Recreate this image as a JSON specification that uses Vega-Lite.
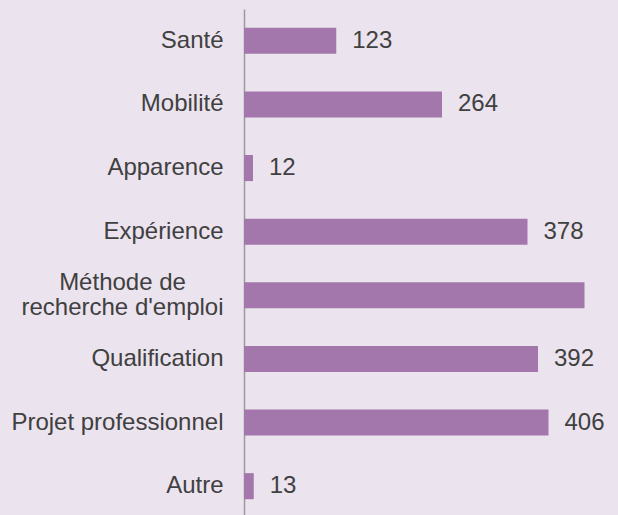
{
  "$schema": "https://vega.github.io/schema/vega-lite/v6.json",
  "width": 375,
  "height": 509,
  "autosize": "none",
  "padding": {"left": 244, "top": 9, "right": 0, "bottom": 0},
  "background": "#ebe3ee",
  "config": {"view": {"stroke": null}, "font": "Liberation Sans"},
  "data": {"values": [
    {"cat": "Santé", "value": 123, "show": true},
    {"cat": "Mobilité", "value": 264, "show": true},
    {"cat": "Apparence", "value": 12, "show": true},
    {"cat": "Expérience", "value": 378, "show": true},
    {"cat": "Méthode de|recherche d'emploi", "value": 454, "show": false},
    {"cat": "Qualification", "value": 392, "show": true},
    {"cat": "Projet professionnel", "value": 406, "show": true},
    {"cat": "Autre", "value": 13, "show": true}
  ]},
  "encoding": {
    "y": {
      "field": "cat", "type": "nominal", "sort": null, "title": null,
      "scale": {"paddingInner": 0.59, "paddingOuter": 0.295},
      "axis": {
        "domainColor": "#9a9a9a", "domainWidth": 1.5, "ticks": false,
        "labelFontSize": 24, "labelColor": "#404040",
        "labelFont": "Liberation Sans", "labelLimit": 300, "labelLineHeight": 25,
        "labelExpr": "split(datum.value, '|')",
        "labelAlign": {"condition": {"test": "indexof(datum.value, '|') >= 0", "value": "center"}, "value": "right"},
        "labelPadding": {"condition": {"test": "indexof(datum.value, '|') >= 0", "value": 122}, "value": 21},
        "labelOffset": {"condition": {"test": "indexof(datum.value, '|') >= 0", "value": -12}, "value": 0}
      }
    },
    "x": {
      "field": "value", "type": "quantitative",
      "scale": {"domain": [0, 500], "nice": false},
      "axis": null
    }
  },
  "layer": [
    {"mark": {"type": "bar", "color": "#a377ac"}},
    {
      "transform": [{"filter": "datum.show"}],
      "mark": {"type": "text", "align": "left", "dx": 16, "fontSize": 24, "color": "#404040", "font": "Liberation Sans"},
      "encoding": {"text": {"field": "value", "type": "quantitative"}}
    }
  ]
}
